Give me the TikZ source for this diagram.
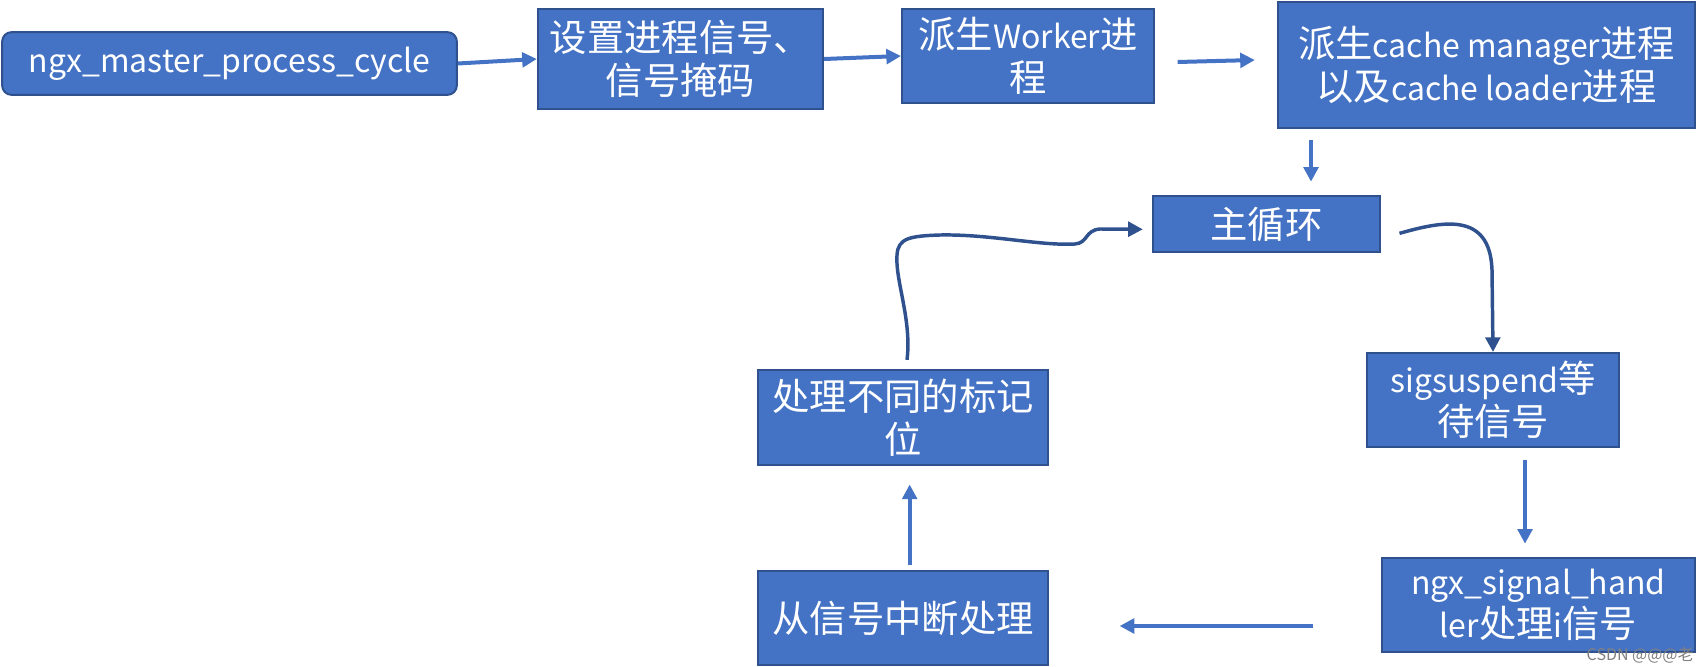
\documentclass[tikz,border=0pt]{standalone}
\usepackage{fontspec}
\setmainfont{Noto Sans CJK SC}
\usetikzlibrary{arrows.meta}
\definecolor{boxblue}{HTML}{4472C4}
\definecolor{edgeblue}{HTML}{2F528F}
\newcommand\lat[1]{{\fontsize{24}{32}\selectfont #1}}
\tikzset{
  box/.style={draw=edgeblue, fill=boxblue, line width=1.5pt, text=white, align=center,
    inner sep=0pt, font=\fontsize{28}{32}\selectfont},
  flow/.style={draw=boxblue, line width=3pt, -{Triangle[length=11pt,width=11pt]}},
  loopback/.style={draw=edgeblue, line width=2.6pt, -{Triangle[length=11pt,width=11pt]}}
}
\begin{document}
\begin{tikzpicture}[x=0.75pt,y=-0.75pt]
    \useasboundingbox (0,0) rectangle (1698,667);
    \node[box, rounded corners=7pt, minimum width=341pt, minimum height=47pt] (master) at (229.5,63.5) {\lat{ngx\_master\_process\_cycle}};
    \node[box, minimum width=214pt, minimum height=75pt] (sig) at (680.5,59) {设置进程信号、\\信号掩码};
    \node[box, minimum width=189pt, minimum height=70.5pt] (worker) at (1028,56) {派生\lat{Worker}进\\程};
    \node[box, minimum width=313pt, minimum height=94.5pt] (cache) at (1486.5,65) {派生\lat{cache manager}进程\\以及\lat{cache loader}进程};
    \node[box, minimum width=170pt, minimum height=42pt] (loop) at (1266.5,224) {主循环};
    \node[box, minimum width=189pt, minimum height=70.5pt] (suspend) at (1493,400) {\lat{sigsuspend}等\\待信号};
    \node[box, minimum width=235pt, minimum height=70.5pt] (handler) at (1538.5,605) {\lat{ngx\_signal\_hand}\\\lat{ler}处理\lat{i}信号};
    \node[box, minimum width=217.5pt, minimum height=70.5pt] (intr) at (903,618) {从信号中断处理};
    \node[box, minimum width=217.5pt, minimum height=71pt] (flags) at (903,417.5) {处理不同的标记\\位};
    \node[anchor=west, text=gray, font=\fontsize{12}{14}\selectfont] (mark) at (1582,655) {CSDN @@@老};
    \draw[flow] (master.east) -- (sig.west);
    \draw[flow] (sig.east) -- (worker.west);
    \draw[flow] ([xshift=17pt,yshift=-4.5pt]worker.east) -- ([xshift=-16.5pt,yshift=3.75pt]cache.west);
    \draw[flow, shorten <=8pt, shorten >=10pt] (1311,0 |- cache.south) -- (1311,0 |- loop.north);
    \draw[loopback] ([xshift=14pt,yshift=-7pt]loop.east) .. controls (1440,222) and (1490,210) .. (1492,270) -- (suspend.north);
    \draw[flow, shorten <=9pt, shorten >=10pt] (1525,0 |- suspend.south) -- (1525,0 |- handler.north);
    \draw[flow, shorten <=51pt, shorten >=53pt] ([yshift=-15.75pt]handler.west) -- ([yshift=-6pt]intr.east);
    \draw[flow, shorten <=4pt, shorten >=14pt] ([xshift=5pt]intr.north) -- ([xshift=5pt]flags.south);
    \draw[loopback] ([xshift=3pt,yshift=7pt]flags.north) .. controls (912,320) and (895,280) .. (897,255)
      .. controls (898,238) and (910,236) .. (940,235) .. controls (990,234) and (1040,246) .. (1075,244)
      .. controls (1088,243) and (1085,230) .. (1100,229) -- ([xshift=-7pt,yshift=-4pt]loop.west);
\end{tikzpicture}
\end{document}
